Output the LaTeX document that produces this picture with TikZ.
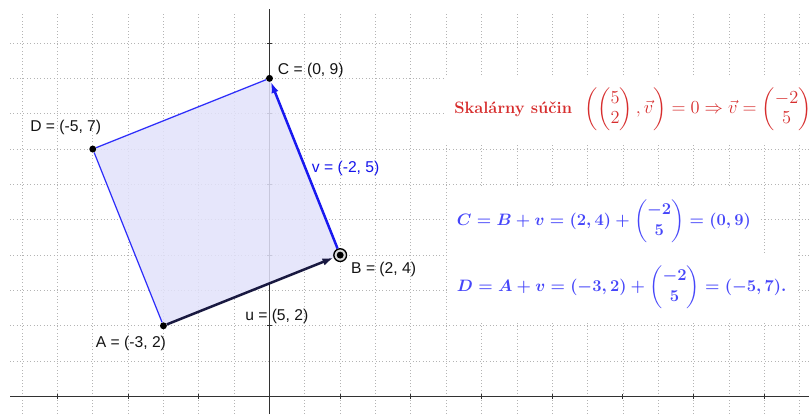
\RequirePackage{fix-cm}
\documentclass[tikz,border=0pt]{standalone}
\usepackage{amsmath}
\usepackage{fontspec}
\newfontfamily\labelfont{Liberation Sans}
\usetikzlibrary{arrows.meta}
\definecolor{gridgray}{RGB}{180,180,180}
\definecolor{axisgray}{RGB}{50,50,50}
\definecolor{polyfill}{RGB}{226,226,250}
\definecolor{polyedge}{RGB}{45,45,250}
\definecolor{uvec}{RGB}{25,25,65}
\definecolor{vvec}{RGB}{25,25,240}
\definecolor{vlabcol}{RGB}{20,20,235}
\definecolor{redtxt}{RGB}{215,45,45}
\definecolor{bluetxt}{RGB}{70,70,250}
\begin{document}
\begin{tikzpicture}[x=1cm,y=1cm,
  gridline/.style={gridgray, line width=0.7pt, dotted},
  axisline/.style={axisgray, line width=0.8pt},
  ptlabel/.style={font=\labelfont\fontsize{12.6}{14}\selectfont, anchor=base west, inner sep=0pt, text=black!92},
  ptdot/.style={circle, fill=black, inner sep=0pt, minimum size=5.6pt},
  ringpt/.style={circle, draw=black, line width=1.1pt, fill=gray!30, inner sep=0pt, minimum size=0.36cm},
  polyside/.style={polyedge, line width=1pt},
  vecu/.style={uvec, line width=2pt, -{Latex[length=9pt,width=6pt]}},
  vecv/.style={vvec, line width=2pt, -{Latex[length=9pt,width=6pt]}},
  infobox/.style={fill=white, anchor=base west, xshift=-8pt, inner xsep=8pt, inner ysep=9pt}
]
\useasboundingbox (-7.624,-0.495) rectangle (15.262,11.217);
% grid
\foreach \x in {-7,...,15} \draw[gridline] (\x,-0.495) -- (\x,10.88);
\foreach \y in {0,...,10} \draw[gridline] (-7.34,\y) -- (15.262,\y);
% axes
\draw[axisline] (-7.34,0) -- (15.262,0);
\draw[axisline] (0,-0.495) -- (0,10.96);
\foreach \x in {-6,-4,...,14} \draw[axisline] (\x,-0.07) -- (\x,0.07);
\foreach \y in {2,4,...,10} \draw[axisline] (-0.07,\y) -- (0.07,\y);
% polygon
\coordinate (pA) at (-3,2);
\coordinate (pB) at (2,4);
\coordinate (pC) at (0,9);
\coordinate (pD) at (-5,7);
\fill[polyfill, opacity=0.85] (pA) -- (pB) -- (pC) -- (pD) -- cycle;
% points
\node[ptdot] (A) at (pA) {};
\node[ptdot] (C) at (pC) {};
\node[ptdot] (D) at (pD) {};
\node[ringpt] (B) at (pB) {};
\node[ptdot] (Bdot) at (pB) {};
% sides and vectors
\draw[polyside] (A) -- (D) -- (C);
\draw[vecu] (A) -- (B);
\draw[vecv] (B) -- (C);
% labels
\node[ptlabel] (Clab) at (0.232,9.12) {C = (0, 9)};
\node[ptlabel] (Dlab) at (-6.775,7.49) {D = (-5, 7)};
\node[ptlabel, text=vlabcol] (vlab) at (1.194,6.33) {v = (-2, 5)};
\node[ptlabel] (Blab) at (2.305,3.485) {B = (2, 4)};
\node[ptlabel] (Alab) at (-4.917,1.392) {A = (-3, 2)};
\node[ptlabel] (ulab) at (-0.693,2.144) {u = (5, 2)};
% text boxes
\node[infobox, text=redtxt, font=\fontsize{14.8}{16}\selectfont] (dotprod) at (5.22,8.0)
  {\makebox[104.6pt][l]{\fontsize{13.25}{16}\selectfont\textbf{Skalárny súčin}}$\left(\begin{pmatrix}5\\2\end{pmatrix},\vec{v}\right)=0\Rightarrow\vec{v}=\begin{pmatrix}-2\\5\end{pmatrix}$};
\node[infobox, text=bluetxt, font=\fontsize{13.3}{17}\selectfont\boldmath] (Ceq) at (5.296,4.851)
  {$C=B+v=(2,4)+\begin{pmatrix}-2\\5\end{pmatrix}=(0,9)$};
\node[infobox, text=bluetxt, font=\fontsize{13.3}{17}\selectfont\boldmath] (Deq) at (5.296,2.984)
  {$D=A+v=(-3,2)+\begin{pmatrix}-2\\5\end{pmatrix}=(-5,7).$};
\end{tikzpicture}
\end{document}
